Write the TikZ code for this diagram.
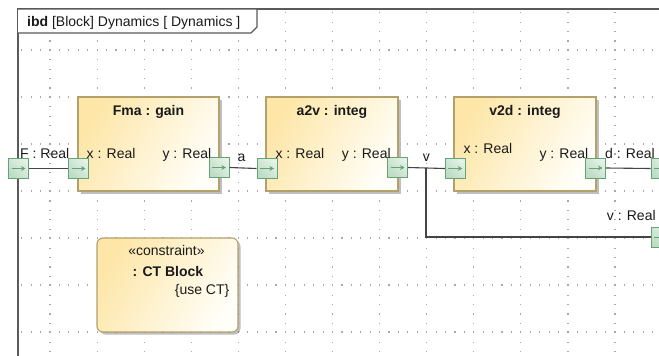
\documentclass[tikz,border=0pt]{standalone}
\usepackage{fontspec}
\setmainfont{Liberation Sans}
\usetikzlibrary{arrows.meta,shadows}
\definecolor{gridc}{HTML}{A8A8A8}
\definecolor{framec}{HTML}{5A5A5A}
\definecolor{blockA}{HTML}{FDE6A8}
\definecolor{blockB}{HTML}{FFFEF8}
\definecolor{blockd}{HTML}{B3A16C}
\definecolor{portd}{HTML}{65A376}
\definecolor{portA}{HTML}{E4F2E7}
\definecolor{portB}{HTML}{BCDCC4}
\definecolor{txt}{HTML}{1A1A1A}
\definecolor{connc}{HTML}{444444}
\tikzset{
  every node/.style={font=\fontsize{14}{16}\selectfont, text=txt},
  block/.style={draw=blockd, line width=1.1pt, shading=axis, top color=blockA, bottom color=blockB, shading angle=60,
    drop shadow={shadow xshift=2.5pt, shadow yshift=-2.5pt, fill=black, opacity=0.25},
    minimum height=94pt, inner sep=0pt},
  cblock/.style={block, rounded corners=6pt, minimum width=141pt},
  portbox/.style={draw=portd, line width=1pt, shading=axis, top color=portA, bottom color=portB, shading angle=-45,
    minimum size=20pt, inner sep=0pt},
  portarrow/.style={draw=portd, line width=1pt, -{Stealth[length=4.5pt,width=5pt]}},
  conn/.style={draw=connc, line width=1.1pt},
  framel/.style={draw=framec, line width=1.3pt},
  lbl/.style={anchor=base west, inner sep=0pt},
  ttl/.style={anchor=base, inner sep=0pt, font=\fontsize{14}{16}\selectfont\bfseries},
}
\begin{document}
\begin{tikzpicture}[x=1pt,y=-1pt]
\useasboundingbox (0,0) rectangle (659,356);
\clip (0,0) rectangle (659,356);
\fill[white] (0,0) rectangle (659,356);
% grid dots
\foreach \gy in {50,97,144,191,238,285,332}{
  \foreach \k in {0,...,68}{
    \fill[gridc] ({21.8+9.416*\k-0.6},{\gy-0.6}) rectangle +(1.2,1.2);
  }
}
\foreach \gx in {50,97.1,144.2,191.2,238.3,285.4,332.5,379.6,426.6,473.7,520.8,567.9,615,662}{
  \foreach \k in {0,...,37}{
    \fill[gridc] ({\gx-0.6},{12.7+9.416*\k-0.6}) rectangle +(1.2,1.2);
  }
}
% frame
\draw[framel] (18,360) -- (18,9) -- (665,9);
\draw[framel, fill=white] (18,9) -- (257,9) -- (257,27) -- (251,33) -- (18,33);
\node[lbl] (title) at (27,26.5) {\textbf{ibd} [Block] Dynamics [ Dynamics ]};
% blocks
\node[block, minimum width=141pt] (fma) at (148.5,144) {};
\node[block, minimum width=132pt] (a2v) at (332,144) {};
\node[block, minimum width=142pt] (v2d) at (525,144) {};
\node[cblock] (ct) at (167.5,285) {};
\node[ttl] (fmat) at (148.5,115) {Fma : gain};
\node[ttl] (a2vt) at (332,115) {a2v : integ};
\node[ttl] (v2dt) at (525,115) {v2d : integ};
\node[anchor=base, inner sep=0pt] (cst) at (166.5,255) {«constraint»};
\node[ttl] (ctt) at (168,276) {: CT Block};
\node[anchor=base east, inner sep=0pt] (ctu) at (229.5,294.5) {\{use CT\}};
% ports
\node[portbox] (pF) at (18.5,168.5) {};
\node[portbox] (fmain) at (78.5,168.5) {};
\node[portbox] (fmaout) at (219,167.5) {};
\node[portbox] (a2vin) at (267,168.5) {};
\node[portbox] (a2vout) at (397.5,167.5) {};
\node[portbox] (v2din) at (455.3,168.5) {};
\node[portbox] (v2dout) at (595.5,168) {};
\node[portbox] (pd) at (661,168.5) {};
\node[portbox] (pv) at (661,237) {};
\foreach \p in {pF,fmain,fmaout,a2vin,a2vout,v2din,v2dout,pd,pv}{
  \draw[portarrow] ([xshift=-7pt]\p.center) -- ([xshift=7pt]\p.center);
}
% connectors
\draw[conn] (pF.east) -- (fmain.west);
\draw[conn] (fmaout.east) -- (a2vin.west);
\draw[conn] (a2vout.east) -- (v2din.west);
\coordinate (j) at (426,168);
\draw[conn] (j) |- (pv.west);
\draw[conn] (v2dout.east) -- (pd.west);
% labels
\node[lbl] (lF) at (20,158) {F : Real};
\node[lbl] (lfx) at (86.5,158) {x : Real};
\node[lbl] (lfy) at (162.3,158) {y : Real};
\node[lbl] (la) at (237.5,161.7) {a};
\node[lbl] (lax) at (275.3,158) {x : Real};
\node[lbl] (lay) at (341.7,158) {y : Real};
\node[lbl] (lv) at (422.7,161.7) {v};
\node[lbl] (lvx) at (463.3,153.3) {x : Real};
\node[lbl] (lvy) at (539.3,158) {y : Real};
\node[lbl] (ld) at (605,158) {d : Real};
\node[lbl] (lvv) at (606.7,220) {v : Real};
\end{tikzpicture}
\end{document}
